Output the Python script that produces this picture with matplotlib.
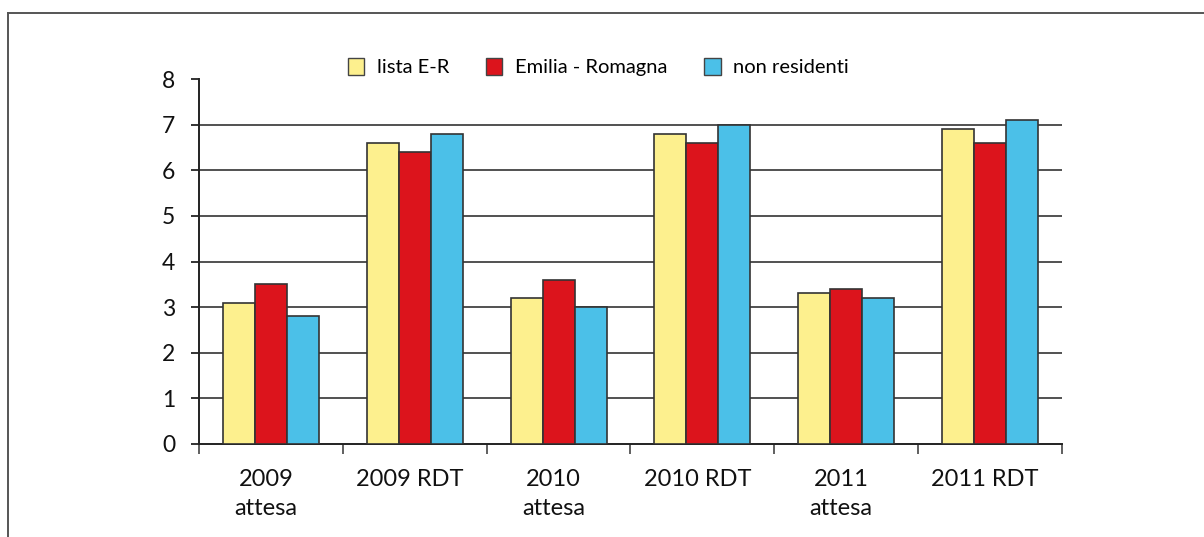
import numpy as np
import matplotlib.pyplot as plt
from matplotlib.patches import Patch
from matplotlib.lines import Line2D
from matplotlib import transforms

plt.rcParams['font.family'] = ['Lato', 'DejaVu Sans']

categories = ['2009\nattesa', '2009 RDT', '2010\nattesa', '2010 RDT', '2011\nattesa', '2011 RDT']
series_names = ['lista E-R', 'Emilia - Romagna', 'non residenti']
lista_er = [3.1, 6.6, 3.2, 6.8, 3.3, 6.9]
emilia_romagna = [3.5, 6.4, 3.6, 6.6, 3.4, 6.6]
non_residenti = [2.8, 6.8, 3.0, 7.0, 3.2, 7.1]
colors = ['#FDF08E', '#DC141C', '#4BC0E8']

W, H = 1204, 537
fig = plt.figure(figsize=(W / 100, H / 100), dpi=100)
ax = fig.add_axes([199 / W, 1 - 444 / H, (1062 - 199) / W, (444 - 79) / H])

x = np.arange(len(categories))
bw = 0.2225
for i, (vals, c) in enumerate(zip([lista_er, emilia_romagna, non_residenti], colors)):
    ax.bar(x + (i - 1) * bw, vals, width=bw, color=c, edgecolor='#333333',
           linewidth=1.2, zorder=3)

ax.set_xlim(-0.5, len(categories) - 0.5)
ax.set_ylim(0, 8)
ax.set_yticks(range(0, 9))
for v in range(1, 8):
    ax.axhline(v, color='#222222', linewidth=1.1, zorder=1)

for s in ['top', 'right']:
    ax.spines[s].set_visible(False)
for s in ['left', 'bottom']:
    ax.spines[s].set_linewidth(1.4)
    ax.spines[s].set_color('#222222')

ax.tick_params(axis='y', direction='out', length=6, width=1.2, pad=11,
               labelsize=16.5, colors='#111111')
ax.set_xticks(x)
ax.set_xticklabels(categories, fontsize=17, linespacing=1.45, color='#111111')
ax.set_xticks(np.arange(-0.5, len(categories), 1), minor=True)
ax.tick_params(axis='x', which='major', length=0, pad=18)
ax.tick_params(axis='x', which='minor', direction='out', length=7, width=1.2,
               color='#444444')
shift = transforms.ScaledTranslation(-5 / 100, 0, fig.dpi_scale_trans)
for lab in ax.get_xticklabels():
    lab.set_transform(lab.get_transform() + shift)
    lab.set_verticalalignment('top')

handles = [Patch(facecolor=c, edgecolor='#444444', linewidth=1.0) for c in colors]
fig.legend(handles, series_names, loc='center left',
           bbox_to_anchor=(348 / W, 1 - 67 / H), ncol=3, frameon=False,
           fontsize=14.5, handlelength=0.8, handleheight=0.95,
           handletextpad=0.62, columnspacing=1.85, borderpad=0,
           borderaxespad=0)

# frame lines around the figure (top and left)
fig.add_artist(Line2D([8 / W, 1], [1 - 13 / H, 1 - 13 / H], color='#555555',
                      linewidth=1.4, transform=fig.transFigure))
fig.add_artist(Line2D([8 / W, 8 / W], [1 - 13 / H, 0], color='#555555',
                      linewidth=1.4, transform=fig.transFigure))

fig.savefig('out.png', dpi=100)
